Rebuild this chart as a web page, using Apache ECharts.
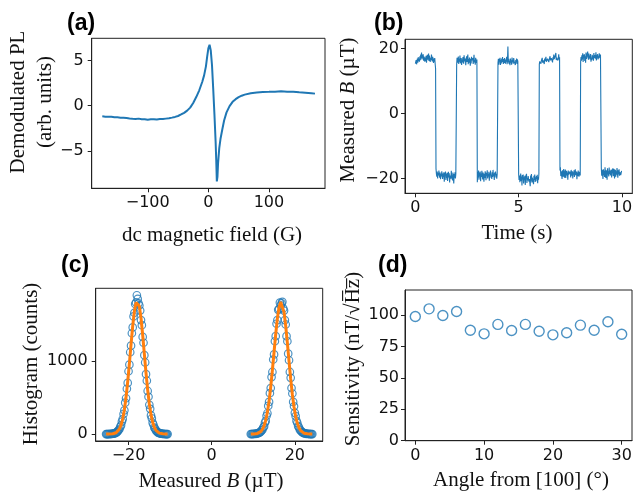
<!DOCTYPE html>
<html><head><meta charset="utf-8">
<script src="https://cdn.jsdelivr.net/npm/echarts@6/dist/echarts.min.js"></script>
<style>html,body{margin:0;padding:0;background:#fff}#c{width:634px;height:497px}</style>
</head><body><div id="c"></div>
<script>
// ---- (a) demodulated PL vs dc magnetic field ----
const fieldA = [-175,-170,-165,-160,-155,-150,-145,-140,-135,-130,-125,-120,-115,-110,-105,-100,-95,-90,-85,-80,-75,-70,-65,-60,-55,-50,-45,-40,-35,-30,-25,-20,-15,-10,-7,-4,-2,0,2,4,6,8,10,12,13,14,15,16,18,20,23,26,30,35,40,45,50,55,60,70,80,90,100,110,120,130,140,150,160,170,176];
const plA = [-1.18,-1.22,-1.24,-1.23,-1.28,-1.30,-1.33,-1.35,-1.38,-1.42,-1.45,-1.47,-1.44,-1.52,-1.50,-1.56,-1.52,-1.50,-1.53,-1.49,-1.48,-1.44,-1.40,-1.33,-1.25,-1.15,-0.98,-0.80,-0.55,-0.22,0.30,0.95,1.70,2.65,3.35,4.35,5.40,6.35,6.75,6.10,4.50,1.90,-0.90,-4.00,-6.00,-8.40,-7.90,-6.40,-4.70,-3.70,-2.65,-1.65,-0.75,-0.05,0.42,0.72,0.95,1.10,1.22,1.38,1.46,1.52,1.53,1.55,1.59,1.55,1.53,1.47,1.44,1.38,1.33];

// ---- (b) measured B vs time (sample interval dtB) ----
const dtB = 0.02;
const fieldB = [
 15.3,15.8,16.4,15.1,16.0,16.9,15.6,17.3,16.1,16.8,15.9,17.6,16.4,18.1,17.0,18.7,16.6,17.4,16.9,18.2,16.2,17.5,16.8,15.9,17.2,16.1,17.7,15.6,16.9,18.0,16.5,17.3,18.4,16.1,17.8,16.7,15.8,17.1,16.4,18.1,17.2,16.0,17.4,16.6,15.5,16.9,15.9,17.0,15.2,13.8,
 -17.0,-18.6,-19.5,-17.9,-20.0,-18.4,-19.1,-17.6,-18.9,-19.8,-18.2,-20.3,-18.7,-19.4,-17.8,-19.0,-20.2,-18.5,-19.6,-18.1,-21.0,-18.8,-19.3,-17.9,-20.5,-18.6,-19.9,-18.3,-20.8,-19.2,-18.0,-19.7,-18.4,-21.3,-19.1,-18.6,-20.1,-17.7,-19.4,-18.9,-20.6,-18.2,-19.5,-21.6,-18.7,-19.8,-18.1,-20.0,-18.6,-19.2,
 15.0,17.1,15.6,16.4,17.5,15.2,16.8,15.9,17.8,15.4,16.3,17.0,14.9,16.6,15.7,17.3,16.1,15.3,17.9,16.0,15.5,16.9,14.8,16.5,17.6,15.8,16.2,18.1,15.1,16.7,15.6,17.2,16.0,14.7,16.8,15.4,17.4,16.3,15.9,17.0,15.2,16.6,18.0,15.7,16.4,15.0,17.1,16.2,15.5,16.6,
 -21.2,-18.1,-19.7,-17.6,-20.4,-18.8,-19.3,-17.9,-20.9,-18.5,-19.6,-17.7,-19.0,-20.3,-18.2,-19.5,-21.0,-18.6,-19.9,-17.8,-18.9,-20.6,-18.3,-19.2,-17.5,-20.0,-18.7,-19.4,-18.0,-20.7,-18.4,-19.1,-17.6,-19.8,-18.9,-20.2,-18.1,-19.6,-17.4,-19.3,-18.5,-20.5,-18.2,-19.0,-17.9,-19.7,-18.6,-20.1,-18.8,-19.4,
 15.6,16.8,15.0,16.3,15.7,17.1,14.9,16.5,15.4,16.9,15.8,17.3,16.0,15.2,16.7,15.5,17.0,16.1,15.3,16.6,15.9,17.4,15.1,16.4,20.6,15.7,16.8,15.2,16.2,14.8,16.9,15.6,16.3,15.0,17.2,15.8,16.5,15.3,17.0,16.1,15.5,16.7,14.9,16.4,15.7,16.9,15.2,16.6,15.9,16.3,
 -18.7,-20.5,-19.1,-21.2,-19.8,-18.5,-20.8,-19.4,-22.2,-19.0,-20.3,-18.8,-21.6,-19.7,-20.4,-19.2,-22.0,-19.5,-20.1,-18.6,-21.4,-19.9,-20.6,-19.3,-18.9,-21.0,-20.2,-19.6,-22.4,-19.1,-20.7,-18.7,-21.3,-19.8,-20.0,-19.4,-21.8,-19.2,-20.5,-18.8,-21.1,-19.7,-20.9,-19.3,-20.2,-18.9,-21.5,-19.6,-20.4,-18.6,
 15.1,16.0,15.5,16.6,15.3,16.2,15.8,17.1,15.6,16.4,15.9,16.7,15.2,16.9,16.1,15.7,17.4,15.9,16.5,15.4,16.8,16.2,17.2,15.8,16.6,16.0,17.6,16.3,15.9,17.0,16.4,16.8,15.7,17.3,16.5,18.1,16.7,16.2,17.5,16.9,18.6,16.4,17.1,16.8,17.7,16.3,17.0,18.2,16.6,17.3,
 -17.6,-16.6,-19.3,-17.8,-18.7,-20.2,-17.5,-18.4,-19.5,-17.1,-18.9,-19.8,-18.0,-17.3,-19.9,-18.6,-17.7,-19.1,-18.2,-20.4,-17.6,-18.8,-18.3,-19.4,-17.9,-18.6,-19.7,-17.4,-18.5,-19.2,-17.8,-20.0,-18.1,-18.9,-17.5,-19.6,-18.4,-17.2,-19.0,-18.7,-17.9,-20.3,-18.2,-19.3,-17.6,-18.8,-19.5,-18.0,-18.6,-19.1,
 15.9,17.3,16.2,17.9,16.6,18.5,15.8,17.5,16.9,18.2,16.1,17.6,15.6,18.7,16.8,17.4,16.3,19.0,17.2,16.5,18.4,16.9,17.8,16.6,18.3,15.9,17.1,16.4,18.0,16.7,17.7,16.2,18.6,17.0,16.5,17.9,16.8,18.8,16.3,17.4,17.0,18.2,16.6,17.6,16.9,18.5,17.2,16.7,18.1,17.5,
 -16.8,-19.2,-17.4,-18.7,-20.2,-17.2,-19.0,-17.7,-19.6,-16.6,-18.3,-19.9,-17.5,-18.5,-20.4,-16.9,-18.8,-17.8,-19.4,-16.7,-18.6,-17.6,-19.1,-18.0,-17.3,-19.7,-17.9,-18.4,-16.9,-19.3,-18.2,-17.1,-20.0,-18.6,-17.4,-19.5,-17.8,-18.9,-16.8,-18.3,-19.8,-17.5,-18.7,-17.2,-19.2,-18.1,-17.6,-19.0,-18.4,-17.7
];

// ---- (c) histogram of measured B (bin centres from start, step binW) and Gaussian fits (step fitStep) ----
const binStartL = -25.4, binStartR = 9.4, binW = 0.2, fitStep = 0.4;
const histL = [0,0,0,1,0,2,1,3,4,5,10,12,19,27,36,55,66,98,120,170,205,275,325,430,490,620,700,860,950,1120,1210,1380,1460,1610,1660,1780,1800,1900,1850,1790,1760,1690,1560,1490,1330,1250,1080,980,820,730,590,510,400,345,255,215,155,128,88,72,48,38,24,19,12,10,5,4,2,2,1,1,0,0,0];
const histR = [0,1,0,2,1,4,3,7,8,14,16,27,31,50,60,90,105,155,180,250,285,385,440,560,630,780,850,1020,1090,1270,1340,1510,1560,1700,1710,1800,1760,1790,1810,1720,1690,1560,1500,1340,1270,1100,1010,850,770,630,555,440,380,290,245,180,152,108,90,60,49,31,27,16,13,8,7,3,4,1,2,0,1,0,0];
const fitL  = [0,0,1,2,4,9,18,37,69,124,209,334,503,717,965,1228,1477,1678,1801,1827,1751,1585,1356,1097,838,605,412,266,162,93,51,26,13,6,3,1,0,0];
const fitR  = [0,1,2,4,9,18,34,64,113,189,300,451,645,874,1123,1369,1583,1737,1807,1783,1669,1482,1248,997,755,543,370,239,147,85,47,25,12,6,3,1,0,0];

// ---- (d) sensitivity vs angle ----
const angleD = [0,2,4,6,8,10,12,14,16,18,20,22,24,26,28,30];
const sensD = [98.9,105.0,99.7,102.9,88.0,85.1,92.6,87.8,92.6,87.2,84.3,85.9,92.0,88.0,94.7,84.8];

// tick values
const ticksAx = [-100,0,100], ticksAy = [-5,0,5];
const ticksBx = [0,5,10], ticksBy = [-20,0,20];
const ticksCx = [-20,0,20], ticksCy = [0,1000];
const ticksDx = [0,10,20,30], ticksDy = [0,25,50,75,100];

const BLUE = '#1f77b4', ORANGE = '#ff7f0e';
const pair = (xs, ys) => ys.map((y, i) => [xs[i], y]);
const binned = (start, step, ys) => ys.map((y, i) => [+(start + i * step).toFixed(2), y]);

const chart = echarts.init(document.getElementById('c'), null, {renderer: 'canvas'});
const fmt = v => String(v).replace('-', '\u2212');
function xAx(gi, min, max, ticks) {
  return {type: 'value', gridIndex: gi, min, max,
    axisLine: {show: true, onZero: false, lineStyle: {color: '#222', width: 1}},
    axisTick: {show: true, inside: false, length: 4, customValues: ticks, lineStyle: {color: '#222', width: 1}},
    axisLabel: {show: true, customValues: ticks, formatter: fmt, margin: 7,
      fontFamily: 'DejaVu Sans', fontSize: 16, color: '#111'},
    splitLine: {show: false}};
}
function yAx(gi, min, max, ticks, margin) {
  return {type: 'value', gridIndex: gi, min, max,
    axisLine: {show: true, onZero: false, lineStyle: {color: '#222', width: 1}},
    axisTick: {show: true, inside: false, length: 4, customValues: ticks, lineStyle: {color: '#222', width: 1}},
    axisLabel: {show: true, customValues: ticks, formatter: fmt, margin: margin,
      fontFamily: 'DejaVu Sans', fontSize: 16, color: '#111'},
    splitLine: {show: false}};
}
const serif = 'Liberation Serif';
function txt(x, y, text, rot, extra) {
  return Object.assign({type: 'text', x, y, rotation: rot || 0,
    style: Object.assign({text, fontFamily: serif, fontSize: 21, fill: '#111',
      align: 'center', verticalAlign: 'middle',
      rich: {i: {fontFamily: serif, fontSize: 21, fontStyle: 'italic', fill: '#111'}}}, extra || {})});
}
function panel(x, y, t) {
  return {type: 'text', x, y, style: {text: t, fontFamily: 'Liberation Sans', fontWeight: 'bold',
    fontSize: 23, fill: '#000', align: 'left', verticalAlign: 'top'}};
}
const R = Math.PI / 2;
const hollow = (size, bw) => ({symbol: 'circle', symbolSize: size,
  itemStyle: {color: 'rgba(0,0,0,0)', borderColor: BLUE, borderWidth: bw}});

chart.setOption({
  animation: false,
  backgroundColor: '#fff',
  grid: [
    {left: 91.7, top: 38.3, width: 233.3, height: 150, show: true, borderColor: '#222', borderWidth: 1, outerBoundsMode: 'none'},
    {left: 405, top: 39.3, width: 227.3, height: 154, show: true, borderColor: '#222', borderWidth: 1, outerBoundsMode: 'none'},
    {left: 95.7, top: 288.3, width: 227, height: 152.7, show: true, borderColor: '#222', borderWidth: 1, outerBoundsMode: 'none'},
    {left: 405, top: 290, width: 227, height: 150.7, show: true, borderColor: '#222', borderWidth: 1, outerBoundsMode: 'none'}
  ],
  xAxis: [
    xAx(0, -192.5, 192.5, ticksAx),
    xAx(1, -0.5, 10.5, ticksBx),
    xAx(2, -27.9, 26.7, ticksCx),
    xAx(3, -1.5, 31.5, ticksDx)
  ],
  yAxis: [
    yAx(0, -9.16, 7.46, ticksAy, 8),
    yAx(1, -24.6, 22.8, ticksBy, 6),
    yAx(2, -95, 1995, ticksCy, 8),
    yAx(3, 0, 120, ticksDy, 6)
  ],
  series: [
    {type: 'line', xAxisIndex: 0, yAxisIndex: 0, data: pair(fieldA, plA), showSymbol: false,
      lineStyle: {color: BLUE, width: 2}, itemStyle: {color: BLUE}},
    {type: 'line', xAxisIndex: 1, yAxisIndex: 1, data: fieldB.map((v, i) => [+(i * dtB).toFixed(2), v]), showSymbol: false,
      lineStyle: {color: BLUE, width: 1.1}, itemStyle: {color: BLUE}},
    Object.assign({type: 'scatter', xAxisIndex: 2, yAxisIndex: 2, data: binned(binStartL, binW, histL), z: 2}, hollow(7.5, 1.2)),
    Object.assign({type: 'scatter', xAxisIndex: 2, yAxisIndex: 2, data: binned(binStartR, binW, histR), z: 2}, hollow(7.5, 1.2)),
    {type: 'line', xAxisIndex: 2, yAxisIndex: 2, data: binned(binStartL, fitStep, fitL), showSymbol: false, z: 3,
      lineStyle: {color: ORANGE, width: 3}, itemStyle: {color: ORANGE}},
    {type: 'line', xAxisIndex: 2, yAxisIndex: 2, data: binned(binStartR, fitStep, fitR), showSymbol: false, z: 3,
      lineStyle: {color: ORANGE, width: 3}, itemStyle: {color: ORANGE}},
    Object.assign({type: 'scatter', xAxisIndex: 3, yAxisIndex: 3, data: pair(angleD, sensD)}, hollow(10, 1.4))
  ],
  graphic: [
    panel(67, 12, '(a)'), panel(374, 12, '(b)'), panel(61, 254, '(c)'), panel(378, 254, '(d)'),
    txt(212, 235, 'dc magnetic field (G)'),
    txt(517, 233, 'Time (s)'),
    txt(211, 481.5, 'Measured {i|B} (\u00b5T)'),
    txt(521, 480, 'Angle from [100] (\u00b0)'),
    txt(18.3, 102, 'Demodulated PL', R),
    txt(45, 102, '(arb. units)', R),
    txt(348.3, 110, 'Measured {i|B} (\u00b5T)', R),
    txt(31.7, 364, 'Histogram (counts)', R),
    txt(353.3, 359, 'Sensitivity (nT/\u221aH\u0305z\u0305)', R)
  ]
});
</script></body></html>
